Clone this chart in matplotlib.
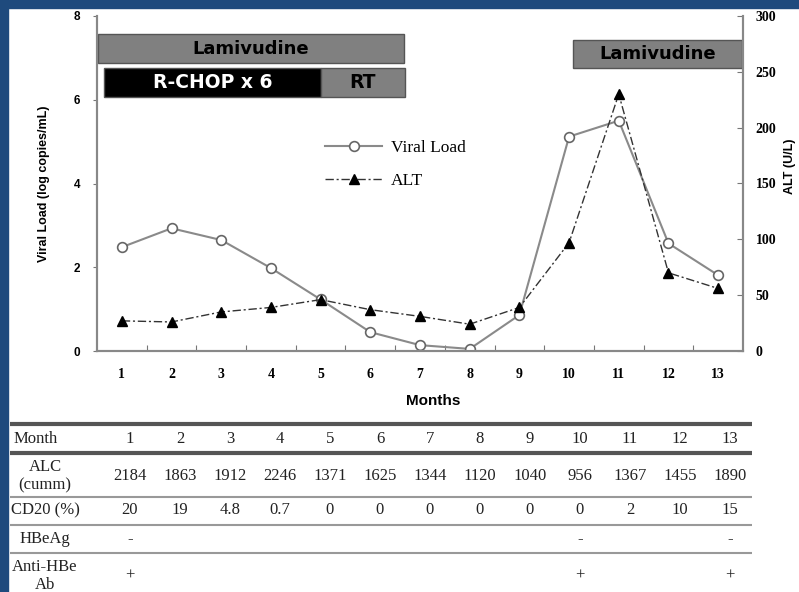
import matplotlib
matplotlib.use("Agg")
import matplotlib.pyplot as plt
from matplotlib.lines import Line2D
from matplotlib.patches import Rectangle

# Follow-up values per month
months = list(range(1, 14))
viral_load = [2.48, 2.93, 2.65, 1.98, 1.23, 0.45, 0.14, 0.05, 0.86, 5.12, 5.5, 2.57, 1.81]
alt = [27, 26, 35, 39, 46, 37, 31, 24, 39, 97, 230, 70, 56]

# Laboratory table below the chart
alc = ["2184", "1863", "1912", "2246", "1371", "1625", "1344",
       "1120", "1040", "956", "1367", "1455", "1890"]
cd20 = ["20", "19", "4.8", "0.7", "0", "0", "0", "0", "0", "0", "2", "10", "15"]
hbeag = ["-", "", "", "", "", "", "", "", "", "-", "", "", "-"]
anti_hbe = ["+", "", "", "", "", "", "", "", "", "+", "", "", "+"]
row_labels = ["Month", "ALC\n(cumm)", "CD20 (%)", "HBeAg", "Anti-HBe\nAb"]

SERIF = "Liberation Serif"
SANS = "Liberation Sans"
W, H = 799, 592

fig = plt.figure(figsize=(W / 100, H / 100), dpi=100, facecolor="white")

# dark blue frame on top and left
fig.patches.append(Rectangle((0, 1 - 8 / H), 1, 8 / H, transform=fig.transFigure,
                             color="#1e4a7d", zorder=0))
fig.patches.append(Rectangle((0, 0), 8 / W, 1, transform=fig.transFigure,
                             color="#1e4a7d", zorder=0))

ax = fig.add_axes([97 / W, 1 - 351 / H, (743 - 97) / W, (351 - 16) / H])
ax2 = ax.twinx()

ax.plot(months, viral_load, color="#8a8a8a", lw=1.5, marker="o", ms=7,
        mfc="white", mec="#666666", mew=1.2, zorder=3)
ax2.plot(months, alt, color="#333333", lw=1.0, ls=(0, (6, 2, 1.5, 2)),
         marker="^", ms=7, mfc="black", mec="black", zorder=3)

ax.set_xlim(0.5, 13.5)
ax.set_ylim(0, 8)
ax2.set_ylim(0, 300)
ax.set_yticks([0, 2, 4, 6, 8])
ax2.set_yticks([0, 50, 100, 150, 200, 250, 300])

# category boundaries carry the tick marks, month labels sit in between
ax.set_xticks([m + 0.5 for m in months[:-1]])
ax.set_xticklabels([])
ax.set_xticks(months, minor=True)
ax.set_xticklabels([str(m) for m in months], minor=True,
                   fontfamily=SERIF, fontweight="bold", fontsize=10)
ax.tick_params(axis="x", which="major", direction="in", length=4, color="#777777")
ax.tick_params(axis="x", which="minor", length=0, pad=12)
ax.tick_params(axis="y", direction="out", length=3, color="#777777", pad=9)
ax2.tick_params(axis="y", direction="in", length=4, color="#777777", pad=9)
for lab in ax.get_yticklabels():
    lab.set_fontfamily(SANS)
    lab.set_fontweight("bold")
    lab.set_fontsize(8.5)
for lab in ax2.get_yticklabels():
    lab.set_fontfamily(SERIF)
    lab.set_fontweight("bold")
    lab.set_fontsize(10)

for a in (ax, ax2):
    a.spines["top"].set_visible(False)
    for s in ("left", "right", "bottom"):
        a.spines[s].set_color("#888888")
        a.spines[s].set_linewidth(1.5)

ax.set_xlabel("Months", fontfamily=SANS, fontweight="bold", fontsize=11)
ax.xaxis.set_label_coords(0.52, -0.128)
ax.set_ylabel("Viral Load (log copies/mL)", fontfamily=SANS, fontweight="bold",
              fontsize=9)
ax.yaxis.set_label_coords(-0.073, 0.5)
ax2.set_ylabel("ALT (U/L)", fontfamily=SANS, fontweight="bold", fontsize=9,
               rotation=90)
ax2.yaxis.set_label_coords(1.064, 0.55)

# treatment bars
def bar(x0, x1, y0, y1, face, text, tcolor, size):
    ax.add_patch(Rectangle((x0, y0), x1 - x0, y1 - y0, facecolor=face,
                           edgecolor="#555555", lw=1.0, clip_on=False, zorder=4))
    ax.text((x0 + x1) / 2, (y0 + y1) / 2, text, ha="center", va="center",
            color=tcolor, fontsize=size, fontweight="bold",
            fontfamily="DejaVu Sans", zorder=5)

bar(0.52, 6.68, 6.87, 7.57, "#808080", "Lamivudine", "black", 13)
bar(0.64, 5.0, 6.06, 6.75, "black", "R-CHOP x 6", "white", 13.5)
bar(5.0, 6.7, 6.06, 6.75, "#808080", "RT", "black", 13.5)
bar(10.08, 13.48, 6.75, 7.42, "#808080", "Lamivudine", "black", 13)

handles = [
    Line2D([0], [0], color="#8a8a8a", lw=1.5, marker="o", ms=7, mfc="white",
           mec="#666666", mew=1.2, label="Viral Load"),
    Line2D([0], [0], color="#333333", lw=1.0, ls=(0, (6, 2, 1.5, 2)), marker="^",
           ms=7, mfc="black", mec="black", label="ALT"),
]
ax.legend(handles=handles, loc="upper left", bbox_to_anchor=(0.353, 0.63),
          frameon=False, borderpad=0, borderaxespad=0, handlelength=3.3,
          handletextpad=0.5, labelspacing=0.95,
          prop={"family": SERIF, "size": 12.5})

# table, drawn in pixel-like coordinates (month m sits at 80 + 50 m px)
tax = fig.add_axes([0, 0, 1, (H - 410) / H])
tax.set_xlim(-80 / 50, (W - 80) / 50)
tax.set_ylim(H, 410)
tax.axis("off")

x_left, x_right = (10 - 80) / 50, (752 - 80) / 50
for y, lw, col in [(424, 3.0, "#555555"), (453, 3.0, "#555555"),
                   (497, 1.5, "#999999"), (525, 1.5, "#999999"),
                   (553, 1.5, "#999999")]:
    tax.plot([x_left, x_right], [y, y], color=col, lw=lw, solid_capstyle="butt")

row_y = [439, 476, 510, 539, 576]
label_x = (45 - 80) / 50
tfont = dict(family=SERIF, size=12, ha="center", va="center", color="#222222")
for lab, y in zip(row_labels, row_y):
    tax.text(label_x, y, lab, linespacing=1.15, **tfont)
    if lab == "Month":
        tax.texts[-1].set_x((14 - 80) / 50)
        tax.texts[-1].set_ha("left")

rows = [[str(m) for m in months], alc, cd20, hbeag, anti_hbe]
for vals, y in zip(rows, row_y):
    for m, v in zip(months, vals):
        if v:
            tax.text(m, y, v, **tfont)

fig.savefig("out.png", dpi=100, facecolor="white")
